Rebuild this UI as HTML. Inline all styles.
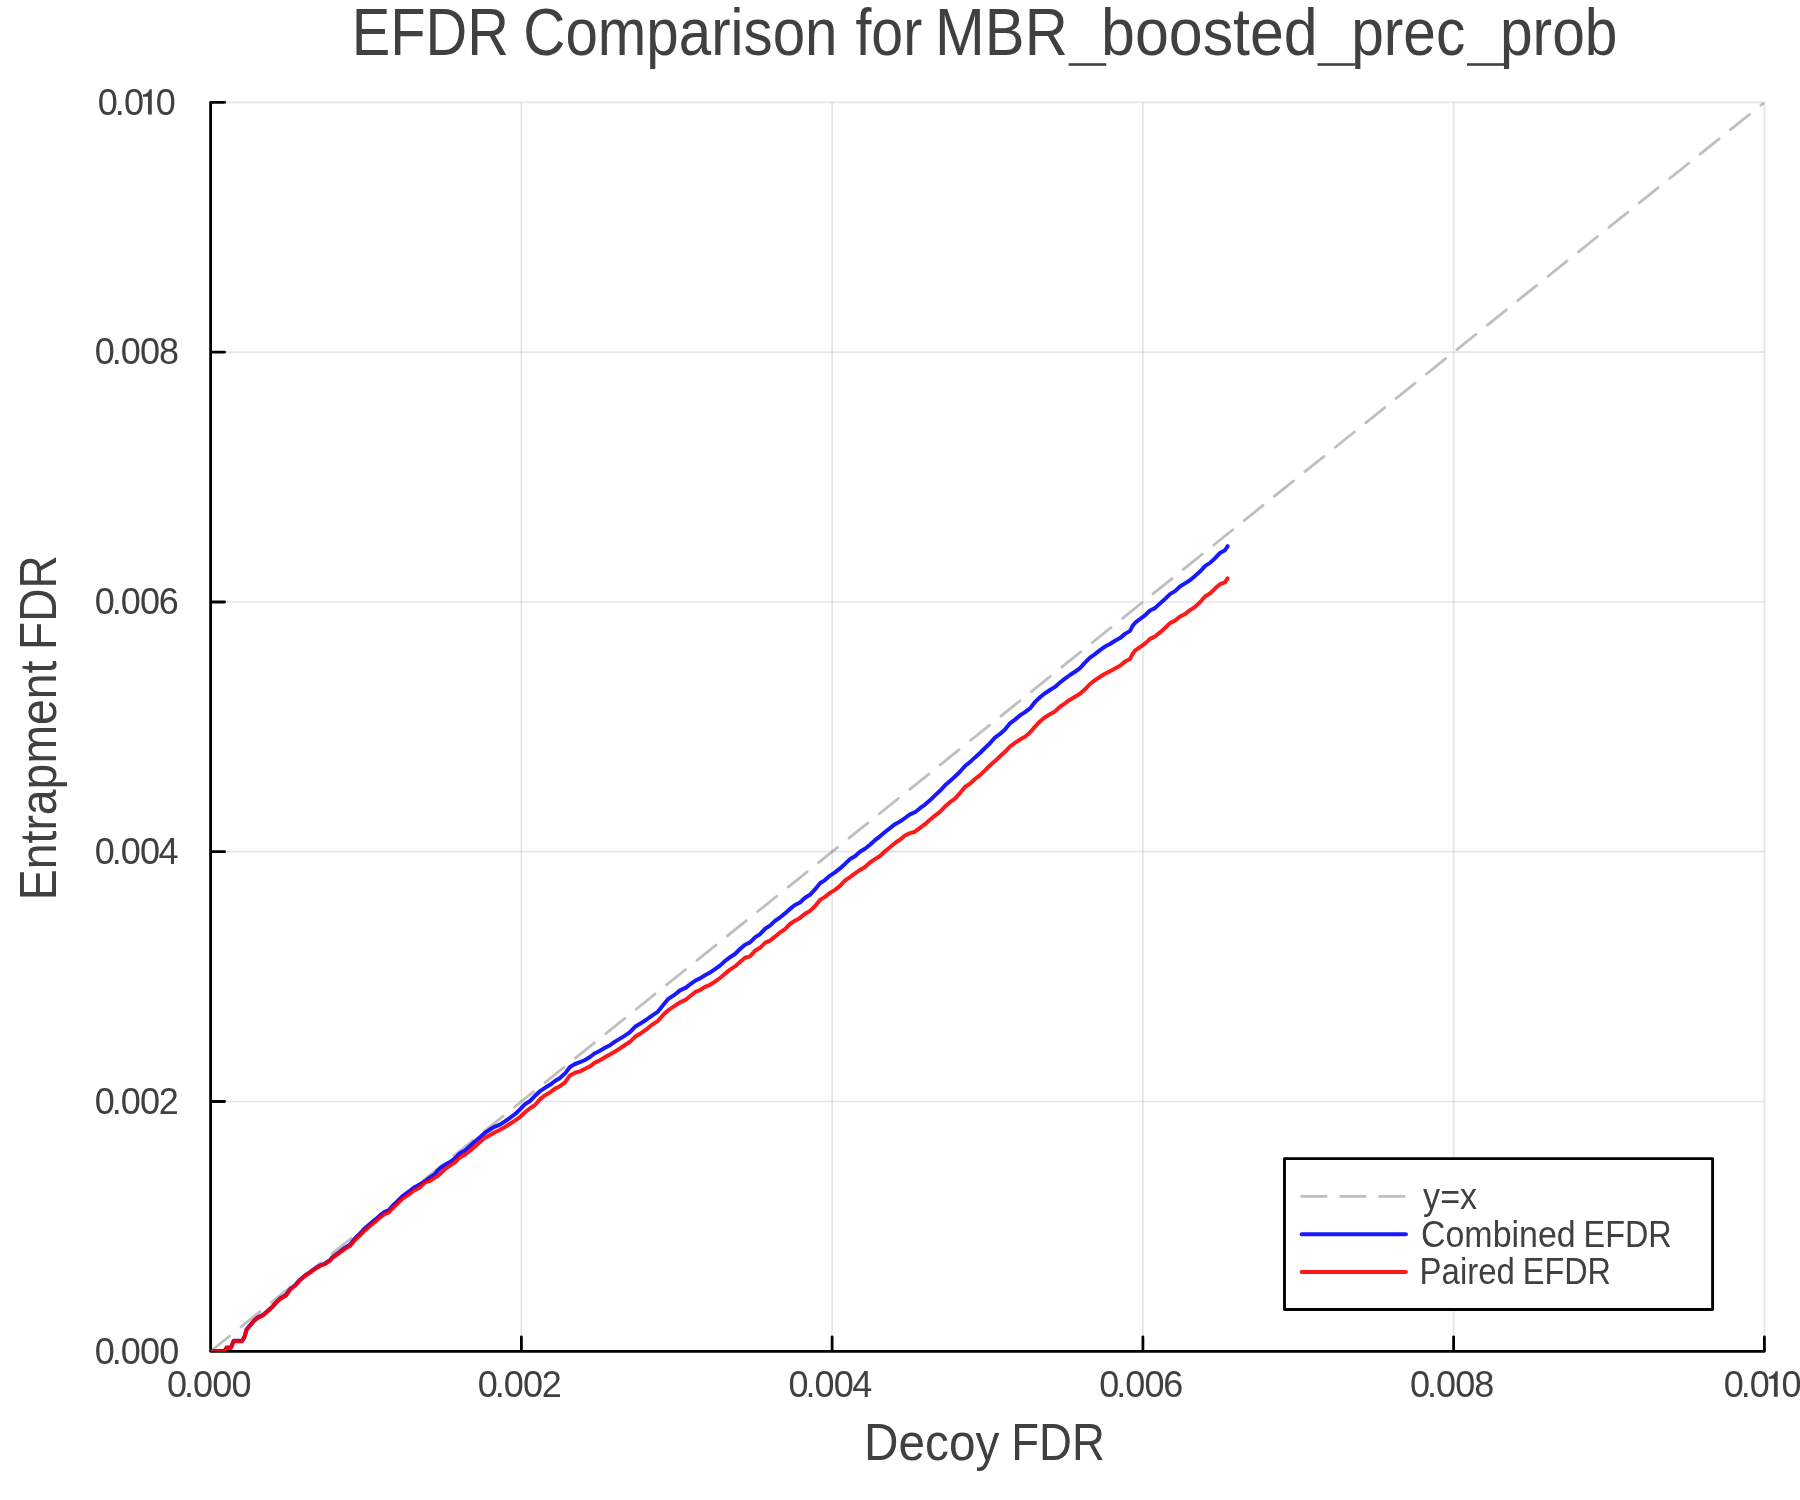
<!DOCTYPE html><html><head><meta charset="utf-8"><title>EFDR Comparison</title><style>html,body{margin:0;padding:0;background:#fff;overflow:hidden}svg{display:block}text{font-family:"Liberation Sans",sans-serif;fill:#404040;font-kerning:none;font-variant-ligatures:none}svg{will-change:transform}</style></head><body>
<svg width="1800" height="1500" viewBox="0 0 1800 1500">
<rect width="1800" height="1500" fill="#fff"/>
<path d="M521.4 102.4V1351.3M832.1 102.4V1351.3M1142.9 102.4V1351.3M1453.6 102.4V1351.3M1764.4 102.4V1351.3" stroke="#000" stroke-opacity="0.1" stroke-width="1.7" fill="none"/>
<path d="M210.6 1101.5H1764.4M210.6 851.7H1764.4M210.6 602.0H1764.4M210.6 352.2H1764.4M210.6 102.4H1764.4" stroke="#000" stroke-opacity="0.1" stroke-width="1.7" fill="none"/>
<path d="M210.6 102.4V1351.3M210.6 1351.3H1764.4M210.6 1351.3h14M210.6 1101.5h14M210.6 851.7h14M210.6 602.0h14M210.6 352.2h14M210.6 102.4h14M210.6 1351.3v-14.3M521.4 1351.3v-14.3M832.1 1351.3v-14.3M1142.9 1351.3v-14.3M1453.6 1351.3v-14.3M1764.4 1351.3v-14.3" stroke="#000" stroke-width="2.8" stroke-linecap="round" stroke-linejoin="round" fill="none"/>
<clipPath id="pa"><rect x="210.6" y="102.4" width="1553.8" height="1248.9"/></clipPath><g clip-path="url(#pa)">
<path d="M210.6 1351.3L1764.4 102.4" stroke="#808080" stroke-opacity="0.5" stroke-width="2.8" stroke-linecap="round" stroke-dasharray="24.4 14.6" fill="none"/>
<path d="M210.6 1350.9 L224.6 1350.9 L226.6 1347.6 L230.9 1347.6 L233.7 1340.8 L242.0 1340.8 L244.2 1337.5 L246.7 1329.2 L250.5 1324.7 L254.3 1320.3 L258.1 1317.1 L262.6 1315.2 L267.0 1311.4 L271.4 1307.6 L275.9 1302.6 L279.7 1298.8 L286.0 1295.0 L290.0 1289.3 L295.0 1285.3 L300.0 1279.7 L305.0 1275.5 L310.0 1272.1 L315.0 1268.5 L320.0 1265.5 L325.0 1263.5 L330.0 1260.1 L332.4 1257.2 L335.0 1255.3 L340.0 1251.6 L345.0 1247.6 L350.0 1244.6 L355.0 1238.4 L360.0 1233.4 L365.0 1228.5 L370.0 1224.0 L375.0 1219.9 L380.0 1215.4 L385.0 1211.6 L388.6 1210.3 L391.0 1207.5 L397.0 1201.7 L403.0 1195.8 L409.0 1191.5 L414.0 1187.5 L420.0 1184.3 L425.0 1181.3 L430.0 1177.4 L435.0 1174.1 L437.5 1170.8 L440.0 1168.4 L445.0 1164.8 L450.0 1162.0 L455.0 1158.4 L460.0 1153.2 L465.0 1150.4 L470.0 1146.0 L475.0 1141.6 L480.0 1137.2 L485.0 1132.8 L490.0 1129.5 L495.0 1126.6 L500.0 1124.6 L505.0 1121.4 L510.0 1117.8 L515.0 1114.2 L520.0 1109.4 L525.0 1104.2 L530.0 1101.0 L535.0 1095.8 L540.0 1091.2 L545.0 1087.8 L550.0 1084.8 L555.0 1081.0 L560.0 1078.0 L565.0 1073.4 L570.0 1067.0 L575.0 1064.0 L580.0 1062.2 L585.0 1060.0 L590.0 1057.0 L595.0 1053.2 L600.0 1050.8 L605.0 1047.8 L610.0 1045.2 L615.0 1041.6 L620.0 1038.6 L625.0 1035.6 L630.0 1032.2 L635.0 1026.8 L640.0 1023.7 L646.0 1020.0 L652.0 1015.6 L658.0 1011.6 L664.0 1004.0 L668.0 999.2 L674.0 995.2 L680.0 990.4 L686.0 987.6 L690.0 984.4 L695.0 980.8 L700.0 978.4 L705.0 975.2 L710.0 972.6 L715.0 969.2 L720.0 965.6 L725.0 961.0 L730.0 957.2 L735.0 954.0 L740.0 949.0 L745.0 944.7 L750.0 942.4 L755.0 937.4 L760.0 934.2 L765.0 928.8 L770.0 925.6 L775.0 920.9 L780.0 917.5 L785.0 913.4 L790.0 908.9 L795.0 905.0 L800.0 902.5 L805.0 897.8 L810.0 894.8 L815.0 889.4 L820.0 883.3 L825.0 880.1 L830.0 875.6 L835.0 872.4 L840.0 868.4 L845.0 863.9 L850.0 859.1 L855.0 856.2 L860.0 851.7 L865.0 848.8 L870.0 844.7 L875.0 840.2 L880.0 836.3 L885.0 832.0 L890.0 828.1 L895.0 824.2 L900.0 821.6 L905.0 818.0 L910.0 814.4 L915.0 812.2 L920.0 808.2 L925.0 804.6 L930.0 800.2 L935.0 795.4 L940.0 790.8 L945.0 785.3 L950.0 780.9 L955.0 776.5 L960.0 771.8 L965.0 766.0 L970.0 762.1 L975.0 757.4 L980.0 753.0 L985.0 748.0 L990.0 743.2 L995.0 737.6 L1000.0 733.9 L1005.0 729.4 L1010.0 723.3 L1015.0 719.6 L1020.0 715.4 L1025.0 712.1 L1030.0 708.4 L1035.0 702.0 L1040.0 697.3 L1045.0 693.2 L1050.0 690.0 L1055.0 686.9 L1060.0 682.5 L1065.0 678.6 L1070.0 675.0 L1075.0 671.8 L1080.0 668.2 L1085.0 662.7 L1090.0 657.7 L1095.0 654.1 L1100.0 650.1 L1105.0 646.6 L1110.0 644.0 L1115.0 640.8 L1120.0 638.1 L1125.0 633.9 L1130.0 630.9 L1132.5 626.1 L1135.0 622.9 L1140.0 619.0 L1145.0 615.4 L1150.0 610.5 L1155.0 608.1 L1160.0 603.4 L1165.0 599.0 L1170.0 594.1 L1175.0 591.1 L1180.0 586.5 L1185.0 583.4 L1190.0 580.3 L1195.0 576.0 L1200.0 571.6 L1205.0 566.1 L1210.0 562.9 L1215.0 558.2 L1220.0 553.0 L1225.0 550.3 L1227.6 546.2" stroke="#00f" stroke-opacity="0.9" stroke-width="4" stroke-linecap="round" stroke-linejoin="round" fill="none"/>
<path d="M210.6 1351.3 L224.6 1351.3 L226.6 1348.0 L230.9 1348.0 L233.7 1341.2 L242.0 1341.2 L244.2 1337.9 L246.7 1329.7 L250.5 1325.2 L254.3 1320.8 L258.1 1317.6 L262.6 1315.7 L267.0 1311.9 L271.4 1308.1 L275.9 1303.1 L279.7 1299.3 L286.0 1295.5 L290.0 1289.8 L295.0 1285.8 L300.0 1280.2 L305.0 1276.0 L310.0 1272.6 L315.0 1269.0 L320.0 1266.0 L325.0 1264.0 L330.0 1260.6 L332.4 1257.8 L335.0 1256.0 L340.0 1252.5 L345.0 1248.8 L350.0 1246.0 L355.0 1240.0 L360.0 1235.2 L365.0 1230.4 L370.0 1226.0 L375.0 1222.0 L380.0 1217.6 L385.0 1213.8 L388.6 1212.6 L391.0 1209.8 L397.0 1204.1 L403.0 1198.4 L409.0 1194.3 L414.0 1190.5 L420.0 1187.4 L425.0 1182.3 L430.0 1180.8 L435.0 1177.5 L437.5 1176.3 L440.0 1173.9 L445.0 1169.2 L450.0 1165.6 L455.0 1162.4 L460.0 1157.2 L465.0 1154.8 L470.0 1150.8 L475.0 1146.4 L480.0 1142.0 L485.0 1137.6 L490.0 1135.1 L495.0 1132.2 L500.0 1129.8 L505.0 1127.0 L510.0 1123.8 L515.0 1120.6 L520.0 1117.0 L525.0 1112.2 L530.0 1108.2 L535.0 1105.0 L540.0 1099.4 L545.0 1095.2 L550.0 1092.4 L555.0 1088.6 L560.0 1086.2 L565.0 1082.4 L570.0 1075.4 L575.0 1072.8 L580.0 1071.4 L585.0 1068.8 L590.0 1066.4 L595.0 1062.6 L600.0 1060.2 L605.0 1057.2 L610.0 1054.4 L615.0 1051.6 L620.0 1048.4 L625.0 1045.0 L630.0 1041.8 L635.0 1036.8 L640.0 1033.8 L646.0 1029.6 L652.0 1024.8 L658.0 1020.8 L664.0 1014.0 L668.0 1010.4 L674.0 1006.4 L680.0 1002.4 L686.0 999.6 L690.0 996.2 L695.0 992.2 L700.0 990.2 L705.0 986.8 L710.0 984.8 L715.0 981.6 L720.0 978.0 L725.0 973.8 L730.0 969.6 L735.0 966.4 L740.0 962.0 L745.0 957.8 L750.0 956.4 L755.0 950.8 L760.0 947.8 L765.0 942.8 L770.0 940.6 L775.0 936.7 L780.0 932.4 L785.0 929.2 L790.0 924.0 L795.0 920.7 L800.0 917.9 L805.0 913.7 L810.0 910.9 L815.0 906.2 L820.0 899.9 L825.0 896.9 L830.0 892.9 L835.0 889.9 L840.0 885.9 L845.0 880.5 L850.0 877.1 L855.0 873.3 L860.0 869.9 L865.0 867.0 L870.0 862.5 L875.0 859.1 L880.0 856.0 L885.0 851.2 L890.0 847.2 L895.0 843.0 L900.0 839.6 L905.0 835.5 L910.0 833.1 L915.0 831.7 L920.0 827.8 L925.0 824.2 L930.0 819.7 L935.0 815.6 L940.0 811.8 L945.0 806.6 L950.0 802.2 L955.0 798.6 L960.0 793.1 L965.0 787.0 L970.0 783.7 L975.0 779.0 L980.0 775.1 L985.0 770.4 L990.0 765.5 L995.0 761.1 L1000.0 756.3 L1005.0 751.8 L1010.0 746.5 L1015.0 742.9 L1020.0 739.5 L1025.0 736.7 L1030.0 732.5 L1035.0 726.6 L1040.0 721.5 L1045.0 717.3 L1050.0 714.2 L1055.0 711.4 L1060.0 706.7 L1065.0 703.3 L1070.0 699.7 L1075.0 696.8 L1080.0 693.7 L1085.0 689.3 L1090.0 684.0 L1095.0 680.2 L1100.0 676.8 L1105.0 673.8 L1110.0 671.2 L1115.0 668.5 L1120.0 665.8 L1125.0 661.6 L1130.0 658.9 L1132.5 654.1 L1135.0 650.6 L1140.0 647.2 L1145.0 643.6 L1150.0 638.9 L1155.0 636.5 L1160.0 632.4 L1165.0 628.0 L1170.0 623.1 L1175.0 620.6 L1180.0 616.5 L1185.0 614.1 L1190.0 610.2 L1195.0 606.9 L1200.0 602.2 L1205.0 596.5 L1210.0 593.5 L1215.0 588.6 L1220.0 584.2 L1225.0 582.3 L1227.6 578.4" stroke="#f00" stroke-opacity="0.9" stroke-width="4" stroke-linecap="round" stroke-linejoin="round" fill="none"/>
</g>
<text x="94.69 111.71 120.79 139.99 159.19" y="1363.5" font-size="36">0.000</text>
<text x="94.69 111.71 120.79 139.99 158.79" y="1113.7" font-size="36">0.002</text>
<text x="94.69 111.71 120.79 139.99 158.57" y="863.9" font-size="36">0.004</text>
<text x="94.69 111.71 120.79 139.99 158.77" y="614.2" font-size="36">0.006</text>
<text x="94.69 111.71 120.79 139.99 159.04" y="364.4" font-size="36">0.008</text>
<text x="97.79 114.81 123.89 155.69" y="114.6" font-size="36">0.00</text><path transform="translate(99.20 114.60)" d="M52.56 -25.4L52.56 0L48.83 0L48.83 -17.93L43.7 -17.93L43.7 -20.07C46.27 -20.28 48.83 -21.56 50.11 -24.33L50.43 -25.4Z" fill="#404040"/>
<text x="166.89 183.91 192.99 212.19 231.39" y="1396.7" font-size="36">0.000</text>
<text x="477.65 494.67 503.75 522.95 541.75" y="1396.7" font-size="36">0.002</text>
<text x="788.41 805.43 814.51 833.71 852.29" y="1396.7" font-size="36">0.004</text>
<text x="1099.17 1116.19 1125.27 1144.47 1163.25" y="1396.7" font-size="36">0.006</text>
<text x="1409.93 1426.95 1436.03 1455.23 1474.28" y="1396.7" font-size="36">0.008</text>
<text x="1723.69 1740.71 1749.79 1781.59" y="1396.7" font-size="36">0.00</text><path transform="translate(1725.10 1396.70)" d="M52.56 -25.4L52.56 0L48.83 0L48.83 -17.93L43.7 -17.93L43.7 -20.07C46.27 -20.28 48.83 -21.56 50.11 -24.33L50.43 -25.4Z" fill="#404040"/>
<text x="351.66" y="55.00" font-size="66.90" textLength="157.27" lengthAdjust="spacingAndGlyphs">EFDR</text>
<text x="523.29" y="55.00" font-size="66.90" textLength="314.25" lengthAdjust="spacingAndGlyphs">Comparison</text>
<text x="855.44" y="55.00" font-size="66.90" textLength="66.76" lengthAdjust="spacingAndGlyphs">for</text>
<text x="935.10" y="55.00" font-size="66.90" textLength="132.67" lengthAdjust="spacingAndGlyphs">MBR</text>
<rect x="1068.75" y="63.2" width="37.50" height="2.6" fill="#404040"/>
<text x="1101.08" y="55.00" font-size="66.90" textLength="216.60" lengthAdjust="spacingAndGlyphs">boosted</text>
<rect x="1317.50" y="63.2" width="37.50" height="2.6" fill="#404040"/>
<text x="1351.22" y="55.00" font-size="66.90" textLength="114.08" lengthAdjust="spacingAndGlyphs">prec</text>
<rect x="1467.00" y="63.2" width="38.00" height="2.6" fill="#404040"/>
<text x="1499.97" y="55.00" font-size="66.90" textLength="117.50" lengthAdjust="spacingAndGlyphs">prob</text>
<text x="864.09" y="1460.00" font-size="52.30" textLength="135.21" lengthAdjust="spacingAndGlyphs">Decoy</text>
<text x="1011.27" y="1460.00" font-size="52.30" textLength="93.55" lengthAdjust="spacingAndGlyphs">FDR</text>
<text transform="translate(56.1 0) rotate(-90)" x="-900.20" y="0.00" font-size="52.30" textLength="239.64" lengthAdjust="spacingAndGlyphs">Entrapment</text>
<text transform="translate(56.1 0) rotate(-90)" x="-649.88" y="0.00" font-size="52.30" textLength="94.72" lengthAdjust="spacingAndGlyphs">FDR</text>
<rect x="1284.5" y="1158.6" width="428.1" height="150.9" fill="#fff" stroke="#000" stroke-width="2.9" stroke-linejoin="round"/>
<path d="M1301.7 1196.4H1405.9" stroke="#808080" stroke-opacity="0.5" stroke-width="2.8" stroke-linecap="round" stroke-dasharray="24.4 14.6" fill="none"/>
<path d="M1301.7 1234.25H1405.9" stroke="#00f" stroke-opacity="0.9" stroke-width="4" stroke-linecap="round" fill="none"/>
<path d="M1301.7 1271.9H1405.9" stroke="#f00" stroke-opacity="0.9" stroke-width="4" stroke-linecap="round" fill="none"/>
<text x="1423.12" y="1209.20" font-size="36.20" textLength="53.95" lengthAdjust="spacingAndGlyphs">y=x</text>
<text x="1420.98" y="1246.60" font-size="36.20" textLength="154.71" lengthAdjust="spacingAndGlyphs">Combined</text>
<text x="1583.54" y="1246.60" font-size="36.20" textLength="88.16" lengthAdjust="spacingAndGlyphs">EFDR</text>
<text x="1419.60" y="1283.80" font-size="36.20" textLength="95.28" lengthAdjust="spacingAndGlyphs">Paired</text>
<text x="1522.84" y="1283.80" font-size="36.20" textLength="88.16" lengthAdjust="spacingAndGlyphs">EFDR</text>
</svg></body></html>
